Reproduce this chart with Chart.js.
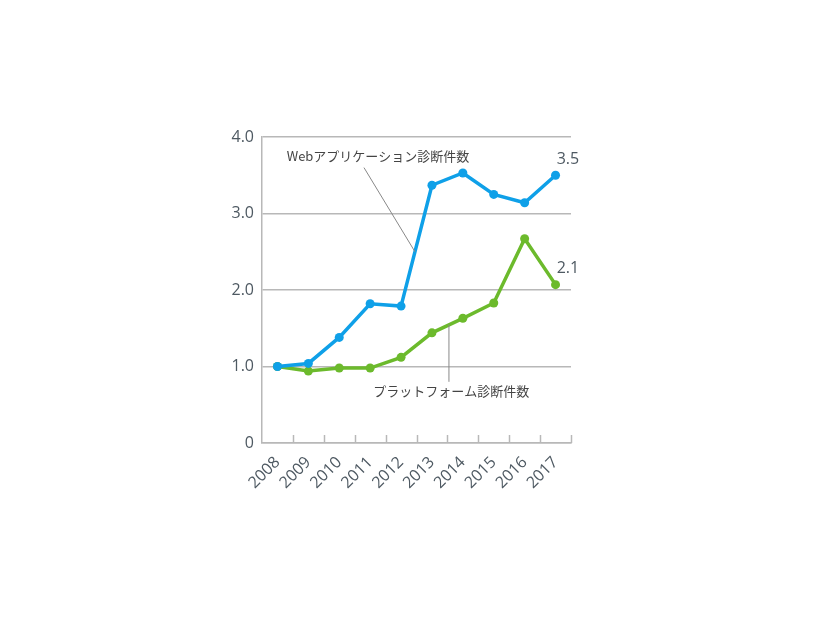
<!DOCTYPE html>
<html><head><meta charset="utf-8">
<script src="https://cdn.jsdelivr.net/npm/chart.js@4/dist/chart.umd.min.js"></script>
<style>html,body{margin:0;padding:0;background:#fff}#wrap{width:826px;height:620px}</style>
</head><body><div id="wrap"><canvas id="c" width="826" height="620"></canvas></div>
<script>
const years = ["2008","2009","2010","2011","2012","2013","2014","2015","2016","2017"];
const webValues = [1.0, 1.04, 1.38, 1.82, 1.79, 3.37, 3.53, 3.25, 3.14, 3.5];
const platformValues = [1.0, 0.94, 0.98, 0.98, 1.12, 1.44, 1.63, 1.83, 2.67, 2.07];
const yTickLabels = {0:"0",1:"1.0",2:"2.0",3:"3.0",4:"4.0"};
const webLabel = "Webアプリケーション診断件数";
const platformLabel = "プラットフォーム診断件数";
const webEndLabel = "3.5";
const platformEndLabel = "2.1";

const BLUE = "#0fa0e8", GREEN = "#6cba2c", GRID = "#b8b8b8", TXT = "#4e5962";
const numFont = "'Open Sans', 'Noto Sans', sans-serif";
const jpFont = "'Noto Sans CJK JP', sans-serif";

const annot = {
  id: "annot",
  afterDraw(chart) {
    const ctx = chart.ctx, x = chart.scales.x, y = chart.scales.y, a = chart.chartArea;
    ctx.save();
    ctx.strokeStyle = GRID; ctx.lineWidth = 1.5;
    const step = (a.right - a.left) / years.length;
    for (let i = 1; i <= years.length; i++) {
      const px = Math.round(a.left + i * step) + 0.5;
      ctx.beginPath(); ctx.moveTo(px, a.bottom); ctx.lineTo(px, a.bottom - 8); ctx.stroke();
    }
    ctx.strokeStyle = "#888"; ctx.lineWidth = 1;
    ctx.beginPath();
    ctx.moveTo(x.getPixelForValue(2.8), y.getPixelForValue(3.6));
    ctx.lineTo(x.getPixelForValue(4.45), y.getPixelForValue(2.5));
    ctx.stroke();
    ctx.beginPath();
    const lx = x.getPixelForValue(5.55);
    ctx.moveTo(lx, y.getPixelForValue(1.55));
    ctx.lineTo(lx, y.getPixelForValue(0.8));
    ctx.stroke();
    ctx.fillStyle = "#444";
    ctx.font = "13px " + jpFont;
    ctx.textBaseline = "middle"; ctx.textAlign = "left";
    ctx.fillText(webLabel, x.getPixelForValue(0.3), y.getPixelForValue(3.75));
    ctx.fillText(platformLabel, x.getPixelForValue(3.1), y.getPixelForValue(0.68));
    ctx.fillStyle = TXT;
    ctx.font = "16px " + numFont;
    ctx.textAlign = "center";
    ctx.fillText(webEndLabel, x.getPixelForValue(9.4), y.getPixelForValue(3.71));
    ctx.fillText(platformEndLabel, x.getPixelForValue(9.4), y.getPixelForValue(2.28));
    ctx.restore();
  }
};

new Chart(document.getElementById("c"), {
  type: "line",
  data: {
    labels: years,
    datasets: [
      { label: webLabel, data: webValues, borderColor: BLUE, backgroundColor: BLUE,
        borderWidth: 3.5, pointRadius: 4.5, pointBackgroundColor: BLUE, pointBorderWidth: 0, tension: 0 },
      { label: platformLabel, data: platformValues, borderColor: GREEN, backgroundColor: GREEN,
        borderWidth: 3.5, pointRadius: 4.5, pointBackgroundColor: GREEN, pointBorderWidth: 0, tension: 0 }
    ]
  },
  options: {
    responsive: false, animation: false, devicePixelRatio: 1,
    layout: { padding: { left: 200, right: 255, top: 137, bottom: 117 } },
    plugins: { legend: { display: false }, tooltip: { enabled: false } },
    scales: {
      x: {
        offset: true,
        afterFit: s => { s.height = 60; },
        grid: { display: false },
        border: { display: true, color: GRID, width: 1.5 },
        ticks: { autoSkip: false, color: TXT, font: { family: numFont, size: 16 }, minRotation: 45, maxRotation: 45, padding: 2 }
      },
      y: {
        min: 0, max: 4,
        afterFit: s => { s.width = 62; },
        grid: { color: GRID, lineWidth: 1.5, drawTicks: false },
        border: { display: true, color: GRID, width: 1.5 },
        ticks: { stepSize: 1, color: TXT, font: { family: numFont, size: 16 }, padding: 8,
          callback: v => yTickLabels[v] }
      }
    }
  },
  plugins: [annot]
});
</script></body></html>
